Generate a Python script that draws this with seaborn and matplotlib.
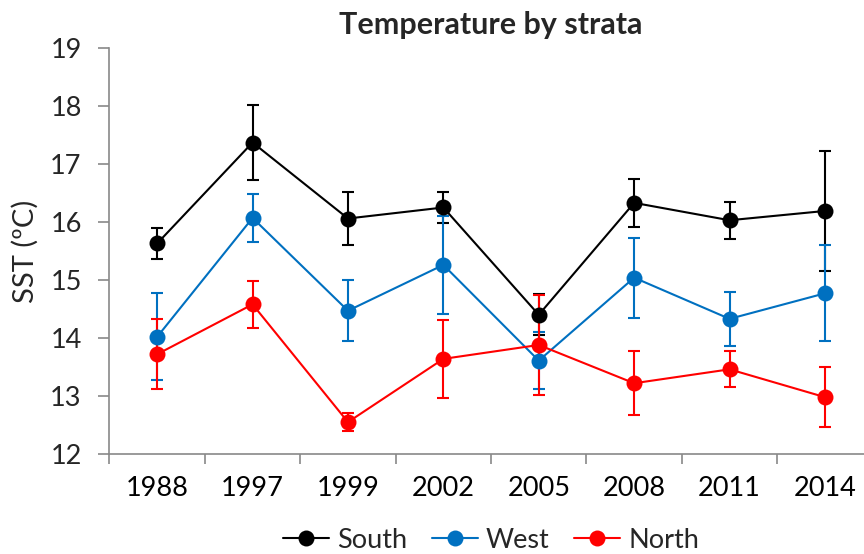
import numpy as np
import pandas as pd
import matplotlib
matplotlib.use("Agg")
import matplotlib.pyplot as plt
import seaborn as sns

years = ["1988", "1997", "1999", "2002", "2005", "2008", "2011", "2014"]
strata = ["South", "West", "North"]

south_mean = [15.63, 17.37, 16.06, 16.25, 14.40, 16.33, 16.03, 16.19]
south_err = [0.26, 0.65, 0.46, 0.27, 0.35, 0.41, 0.32, 1.03]
west_mean = [14.02, 16.07, 14.47, 15.26, 13.61, 15.04, 14.33, 14.77]
west_err = [0.75, 0.41, 0.53, 0.84, 0.49, 0.69, 0.46, 0.83]
north_mean = [13.72, 14.58, 12.55, 13.64, 13.88, 13.22, 13.46, 12.98]
north_err = [0.60, 0.41, 0.15, 0.67, 0.86, 0.55, 0.31, 0.52]

colors = {"South": "#000000", "West": "#0070C0", "North": "#FF0000"}

means = {"South": south_mean, "West": west_mean, "North": north_mean}
errs = {"South": south_err, "West": west_err, "North": north_err}

rows = []
for s in strata:
    for i, y in enumerate(years):
        rows.append({"pos": i, "year": y, "strata": s, "sst": means[s][i], "err": errs[s][i]})
df = pd.DataFrame(rows)

sns.set_theme(style="white")
plt.rcParams["font.family"] = ["Lato", "DejaVu Sans"]

fig = plt.figure(figsize=(8.64, 5.54), dpi=100)
ax = fig.add_axes([0.1267, 0.1805, 0.8833, 0.7329])

for k, s in enumerate(strata):
    d = df[df["strata"] == s]
    ax.errorbar(d["pos"], d["sst"], yerr=d["err"], fmt="none", ecolor=colors[s],
                elinewidth=1.5, capsize=4.5, capthick=1.5, zorder=2 + k)

sns.lineplot(data=df, x="pos", y="sst", hue="strata", hue_order=strata, palette=colors,
             marker="o", markersize=11.5, markeredgewidth=0, linewidth=1.5, ax=ax,
             legend=True, zorder=5)

ax.set_xlim(-0.5, 7.5)
ax.set_ylim(12, 19)
ax.set_xticks(np.arange(-0.5, 8, 1))
ax.set_xticklabels([])
ax.set_xticks(np.arange(8), minor=True)
ax.set_xticklabels(years, minor=True)
ax.tick_params(axis="x", which="major", direction="out", length=7, color="#898989", width=1.2, bottom=True)
ax.tick_params(axis="x", which="minor", length=0, labelsize=19.5, pad=16, colors="black")
ax.set_yticks(range(12, 20))
ax.tick_params(axis="y", direction="out", length=8, color="#898989", width=1.2, left=True,
               labelsize=19.5, pad=12)
for sp in ["top", "right"]:
    ax.spines[sp].set_visible(False)
for sp in ["left", "bottom"]:
    ax.spines[sp].set_color("#898989")
    ax.spines[sp].set_linewidth(1.2)

ax.set_xlabel("")
ax.set_ylabel("SST (ºC)", fontsize=21, labelpad=8)
ax.set_title("Temperature by strata", fontsize=22, fontweight="bold", pad=10)

leg = ax.legend(loc="center", bbox_to_anchor=(0.5, -0.212), ncol=3, frameon=False,
                fontsize=19.5, handlelength=1.7, handletextpad=0.3, columnspacing=0.9)
for h in leg.legend_handles:
    h.set_markersize(11.5)

fig.savefig("out.png", dpi=100)
